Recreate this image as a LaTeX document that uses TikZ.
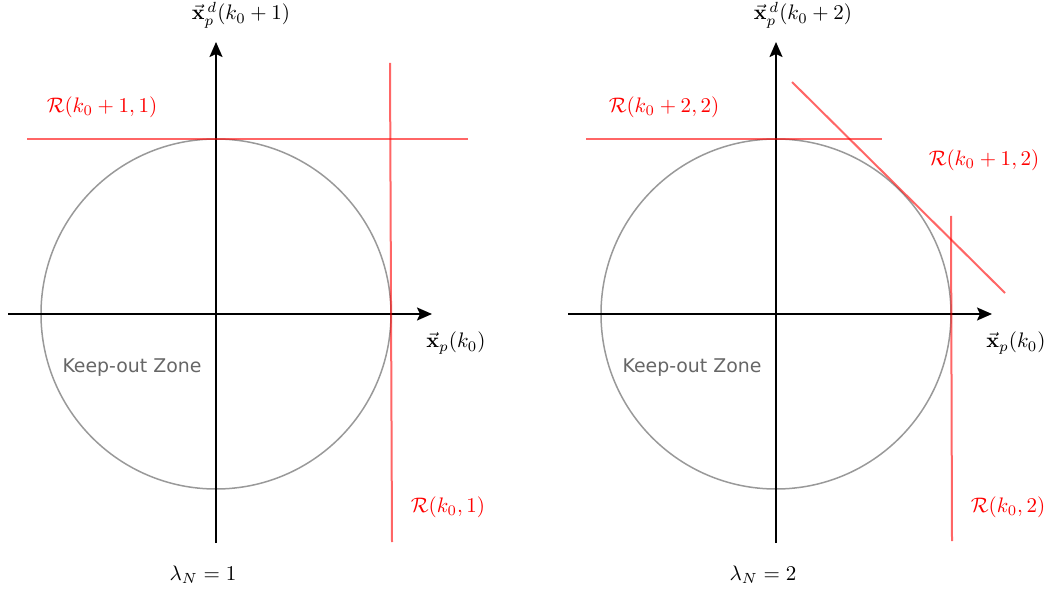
\documentclass[tikz,border=0pt]{standalone}
\usepackage[no-math]{fontspec}
\newfontfamily\dejavu{DejaVu Sans}
\usetikzlibrary{arrows.meta}
\definecolor{circgray}{HTML}{999999}
\definecolor{zonegray}{HTML}{666666}
\begin{document}
\begin{tikzpicture}[x=1pt,y=-1pt,
  axis/.style={line width=2pt, -{Stealth[length=15pt,width=13pt,inset=3pt]}},
  bound/.style={draw=red, draw opacity=0.6, line width=2pt},
  zone/.style={draw=circgray, line width=1.5pt, circle, minimum size=350pt, inner sep=0pt},
  lbl/.style={font=\normalsize, inner sep=0pt, scale=2.1},
  redlbl/.style={lbl, text=red},
  zonelbl/.style={font=\dejavu\fontsize{18.9}{22}\selectfont, text=zonegray, inner sep=0pt}]
\useasboundingbox (0,0) rectangle (1049,593);
% ---------- left panel ----------
\node[zone] (c1) at (216,314) {};
\coordinate (h1a) at (8,314);   \coordinate (h1b) at (432,314);
\coordinate (v1a) at (216,543); \coordinate (v1b) at (216,42);
\draw[axis] (h1a) -- (h1b);
\draw[axis] (v1a) -- (v1b);
\coordinate (r1a) at (27,139);  \coordinate (r1b) at (468,139);
\coordinate (r1c) at (390,63);  \coordinate (r1d) at (392,542);
\draw[bound] (r1a) -- (r1b);
\draw[bound] (r1c) -- (r1d);
\node[lbl] (ly1) at (241,15) {$\vec{\mathbf{x}}_p^{\,d}(k_0+1)$};
\node[redlbl] (lr1a) at (102,107) {$\mathcal{R}(k_0+1,1)$};
\node[lbl] (lx1) at (456,343) {$\vec{\mathbf{x}}_p(k_0)$};
\node[zonelbl] (z1) at (132,368) {Keep-out Zone};
\node[redlbl] (lr1b) at (448,507) {$\mathcal{R}(k_0,1)$};
\node[lbl] (lam1) at (203,575) {$\lambda_N=1$};
% ---------- right panel ----------
\node[zone] (c2) at (776,314) {};
\coordinate (h2a) at (568,314); \coordinate (h2b) at (992,314);
\coordinate (v2a) at (776,543); \coordinate (v2b) at (776,42);
\draw[axis] (h2a) -- (h2b);
\draw[axis] (v2a) -- (v2b);
\coordinate (r2a) at (586,139); \coordinate (r2b) at (882,139);
\coordinate (r2c) at (792,82);  \coordinate (r2d) at (1005,293);
\coordinate (r2e) at (951,216); \coordinate (r2f) at (952,541);
\draw[bound] (r2a) -- (r2b);
\draw[bound] (r2c) -- (r2d);
\draw[bound] (r2e) -- (r2f);
\node[lbl] (ly2) at (803,15) {$\vec{\mathbf{x}}_p^{\,d}(k_0+2)$};
\node[redlbl] (lr2a) at (664,107) {$\mathcal{R}(k_0+2,2)$};
\node[redlbl] (lr2b) at (984,160) {$\mathcal{R}(k_0+1,2)$};
\node[lbl] (lx2) at (1016,343) {$\vec{\mathbf{x}}_p(k_0)$};
\node[zonelbl] (z2) at (692,368) {Keep-out Zone};
\node[redlbl] (lr2c) at (1008,507) {$\mathcal{R}(k_0,2)$};
\node[lbl] (lam2) at (763,575) {$\lambda_N=2$};
\end{tikzpicture}
\end{document}
